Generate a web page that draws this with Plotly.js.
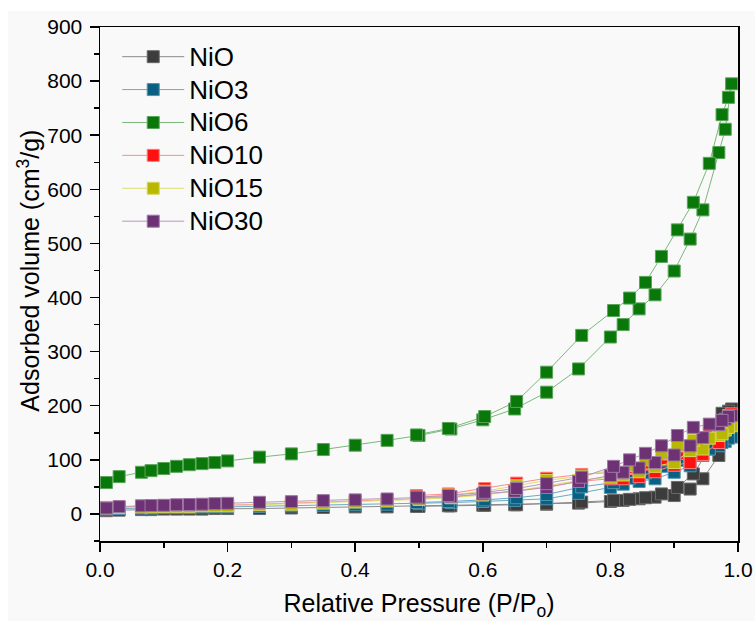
<!DOCTYPE html>
<html>
<head>
<meta charset="utf-8">
<script src="https://cdn.plot.ly/plotly-3.0.1.min.js"></script>
<style>
  html, body { margin: 0; padding: 0; background: #ffffff; width: 755px; height: 621px; overflow: hidden; }
  #chart { position: absolute; left: 8px; top: 11px; width: 747px; height: 610px; }
</style>
</head>
<body>
<div id="chart"></div>
<script>
// Relative pressure points: adsorption branch (up) and desorption branch (down)
const P_ADS = [0.01,0.03,0.065,0.08,0.10,0.12,0.14,0.16,0.18,0.20,0.25,0.30,0.35,0.40,0.45,0.50,0.55,0.60,0.65,0.70,0.75,0.80,0.82,0.845,0.87,0.90,0.925,0.945,0.97,0.98,0.99];
const P_DES = [0.985,0.975,0.955,0.93,0.905,0.88,0.855,0.83,0.805,0.755,0.70,0.653,0.603,0.546,0.496];

const NIO_ADS   = [6,7,8,8,9,9,9,9,10,10,10,11,12,13,13,14,15,16,17,18,20,23,25,28,31,34,46,65,108,150,194];
const NIO_DES   = [190,186,120,74,49,37,30,27,25,22,19,17,16,15,14];

const NIO3_ADS  = [9,10,11,11,12,12,12,13,13,13,14,15,16,17,18,19,21,23,25,28,38,49,55,60,65,77,89,108,126,134,142];
const NIO3_DES  = [140,132,120,110,99,88,76,66,58,50,36,30,26,23,21];

const NIO6_ADS  = [58,69,77,80,84,88,91,93,95,98,105,111,119,127,136,145,157,174,194,225,268,327,350,379,405,449,508,562,668,711,795];
const NIO6_DES  = [770,738,648,576,525,476,428,399,376,330,262,208,180,158,146];

const NIO10_ADS = [12,13,14,14,15,15,15,16,16,16,18,19,21,23,25,28,31,36,42,50,60,65,65,69,78,90,95,110,132,160,185];
const NIO10_DES = [182,170,150,128,112,100,92,84,77,73,66,57,47,37,34];

const NIO15_ADS = [11,12,13,13,14,14,14,15,15,15,17,18,20,22,24,27,30,35,42,52,62,68,72,78,88,95,117,120,145,155,163];
const NIO15_DES = [160,148,140,136,126,111,100,90,82,70,62,52,42,35,31];

const NIO30_ADS = [11,13.5,15,15.5,16,17,17.5,18,19,19.6,21.5,22.7,24.6,26,27.7,29.6,32,37,42,49,60,71,77,85,95,109,126,141,165,175,182];
const NIO30_DES = [180,173,166,160,145,126,112,100,88,68,56,47,40,34,31];

const NAMES = ["NiO","NiO3","NiO6","NiO10","NiO15","NiO30"];
const ADS = [NIO_ADS, NIO3_ADS, NIO6_ADS, NIO10_ADS, NIO15_ADS, NIO30_ADS];
const DES = [NIO_DES, NIO3_DES, NIO6_DES, NIO10_DES, NIO15_DES, NIO30_DES];

const MARKER_COLORS = ["#3c3c3c","#0b6082","#0a770a","#ff1111","#b8b800","#6c3273"];
const EDGE_COLORS   = ["#6a6a6a","#4f94b0","#5aa55a","#ff7a7a","#d6d660","#9f78a6"];
const LINE_COLORS   = ["#8a8a8a","#6aaac4","#7cb87c","#ff8a8a","#dede70","#b599bb"];

const FONT = "Liberation Sans, Arial, Helvetica, sans-serif";

const traces = NAMES.map((name, i) => ({
  type: "scatter",
  mode: "lines+markers",
  name: '<span style="font-size:26px">' + name + '</span>',
  x: P_ADS.concat(P_DES),
  y: ADS[i].concat(DES[i]),
  line: { color: LINE_COLORS[i], width: 1 },
  marker: { symbol: "square", size: 12, color: MARKER_COLORS[i], line: { color: EDGE_COLORS[i], width: 1 } }
}));

const layout = {
  width: 747,
  height: 610,
  margin: { l: 92, r: 17, t: 16, b: 80 },
  paper_bgcolor: "#f9f9f9",
  plot_bgcolor: "#f9f9f9",
  font: { family: FONT, color: "#000000", size: 21 },
  showlegend: true,
  legend: {
    x: 0.027, y: 0.984, xanchor: "left", yanchor: "top",
    bgcolor: "rgba(0,0,0,0)",
    font: { family: FONT, size: 23, color: "#000000" },
    itemwidth: 62,
    tracegroupgap: 0
  },
  xaxis: {
    range: [0, 1.0],
    dtick: 0.2, tick0: 0,
    tickformat: ".1f",
    ticks: "outside", ticklen: 9, tickwidth: 1.5, tickcolor: "#000",
    minor: { dtick: 0.1, ticks: "outside", ticklen: 5, tickwidth: 1.5, tickcolor: "#000" },
    showline: true, linecolor: "#000", linewidth: 1.5, mirror: true,
    showgrid: false, zeroline: false,
    tickfont: { family: FONT, size: 21 },
    title: { text: "Relative Pressure (P/P<sub>o</sub>)", font: { family: FONT, size: 25 }, standoff: 18 }
  },
  yaxis: {
    range: [-50, 900],
    dtick: 100, tick0: 0,
    ticks: "outside", ticklen: 9, tickwidth: 1.5, tickcolor: "#000",
    ticklabelstandoff: 3,
    minor: { dtick: 50, ticks: "outside", ticklen: 5, tickwidth: 1.5, tickcolor: "#000" },
    showline: true, linecolor: "#000", linewidth: 1.5, mirror: true,
    showgrid: false, zeroline: false,
    tickfont: { family: FONT, size: 21 }
  },
  annotations: [{
    text: "Adsorbed volume (cm<sup>3</sup>/g)",
    textangle: -90,
    xref: "paper", yref: "y",
    x: -0.111, y: 450,
    xanchor: "center", yanchor: "middle",
    showarrow: false,
    font: { family: FONT, size: 25, color: "#000" }
  }]
};

Plotly.newPlot("chart", traces, layout, { displayModeBar: false, staticPlot: true });
</script>
</body>
</html>
